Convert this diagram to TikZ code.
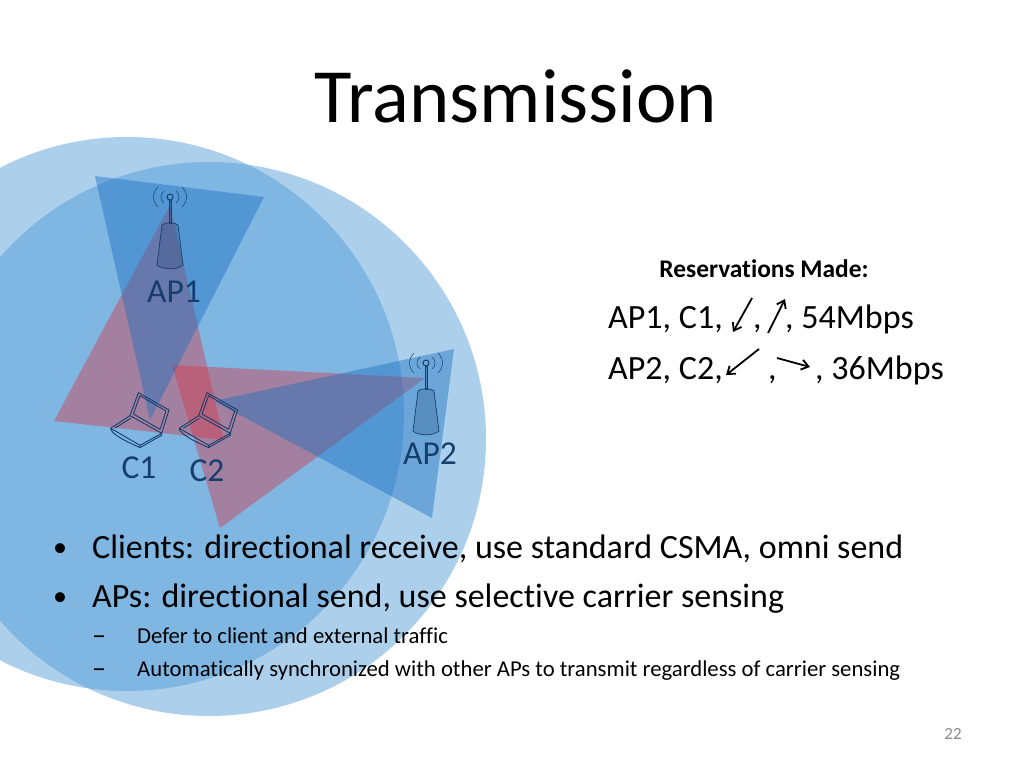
\documentclass[tikz,border=0pt]{standalone}
\usepackage{fontspec}
\setmainfont[Ligatures=NoCommon]{Carlito}
\usepackage{tikz}
\usetikzlibrary{
  positioning,
  arrows.meta
}
\definecolor{RangeBlue}{RGB}{72,150,213}
\definecolor{BeamBlue}{RGB}{20,110,190}
\definecolor{BeamRed}{RGB}{215,55,70}
\definecolor{DeviceBlue}{RGB}{22,62,108}
\definecolor{PageGray}{RGB}{137,137,137}
\tikzset{
  % Omni range of an AP
  omnirange/.style={fill=RangeBlue, fill opacity=0.45},
  % Directional beams
  bluebeam/.style={fill=BeamBlue, fill opacity=0.42},
  redbeam/.style={fill=BeamRed, fill opacity=0.42},
  % Slide text
  slidetitle/.style={font=\fontsize{76.7}{76.7}\selectfont, anchor=base, inner sep=0pt},
  bullettext/.style={font=\fontsize{34}{34}\selectfont, anchor=base west, inner sep=0pt},
  bulletdot/.style={font=\fontsize{28}{28}\selectfont, anchor=base west, inner sep=0pt},
  subbullet/.style={font=\fontsize{22.7}{22.7}\selectfont, anchor=base west, inner sep=0pt},
  subdash/.style={font=\fontsize{28}{28}\selectfont, anchor=base west, inner sep=0pt},
  reserve/.style={font=\fontsize{34}{34}\selectfont, anchor=base west, inner sep=0pt},
  devlabel/.style={font=\fontsize{33.5}{33.5}\selectfont, text=DeviceBlue, anchor=base, inner sep=0pt},
  % Arrows in the reservation list
  dirarrow/.style={draw=black, line width=1.8pt, -{Straight Barb[length=7pt,width=10pt]}},
  % AP icon
  antenna/.pic={
    \draw[DeviceBlue, line width=0.7pt, fill=DeviceBlue, fill opacity=0.22]
      (-8,28) -- (-13,68) .. controls (-8,73) and (8,73) .. (13,68) -- (8,28)
      .. controls (5,25) and (-5,25) .. (-8,28) -- cycle;
    \draw[DeviceBlue, line width=0.7pt, fill=DeviceBlue, fill opacity=0.3]
      (-1,3) rectangle (1,26);
    \draw[DeviceBlue, line width=1pt] (0,0) circle (3);
    \foreach \s in {-1,1} {
      \draw[DeviceBlue, line width=0.5pt]
        (\s*6,-6) .. controls (\s*10,-3) and (\s*10,3) .. (\s*6,6);
      \draw[DeviceBlue, line width=0.5pt]
        (\s*12,-10) .. controls (\s*18,-4) and (\s*18,4) .. (\s*12,10);
    }
  },
  % Client icon
  laptop/.pic={
    \draw[DeviceBlue, line width=0.9pt, line join=round]
      (19.3,-12.7) -- (27.7,-35.7) -- (58.3,-18.3) -- (51,5) -- cycle
      (22.7,-14.3) -- (29.3,-32.7) -- (55.3,-17.3) -- (49.3,1) -- cycle
      (19.3,-12.7) -- (0,0) -- (29.3,17) -- (51,5)
      (0,0) .. controls (0,4) and (8,10) .. (29.3,19.3) -- (51,7) -- (51,5)
      (4,0) -- (20,-10)  (29.3,17) -- (29.3,19.3);
  }
}
\begin{document}
\begin{tikzpicture}[x=1pt, y=-1pt]
  \useasboundingbox (0,0) rectangle (1024,768);

  % Ranges
  \fill[omnirange] (127,414) circle (277);
  \fill[omnirange] (209,439) circle (277);

  % Beams
  \fill[redbeam] (170,205) -- (54,421) -- (224,440) -- cycle;
  \fill[redbeam] (172,365) -- (425,378) -- (220,528) -- cycle;
  \fill[bluebeam] (95,176) -- (264,197) -- (150,420) -- cycle;
  \fill[bluebeam] (454,349) -- (432,518) -- (214,401) -- cycle;

  % Devices
  \pic at (170,197) {antenna};
  \pic at (426,363) {antenna};
  \pic at (110.7,428.3) {laptop};
  \pic at (179.3,428.3) {laptop};

  \node[devlabel] (ap1) at (174,302) {AP1};
  \node[devlabel] (ap2) at (430,464) {AP2};
  \node[devlabel] (c1) at (139,478) {C1};
  \node[devlabel] (c2) at (207,481) {C2};

  \node[slidetitle] (head) at (516,122) {Transmission};

  % Reservation list
  \node[font=\fontsize{25.4}{25.4}\selectfont\bfseries, anchor=base, inner sep=0pt] (made) at (764,277) {Reservations Made:};
  \node[reserve] (r1a) at (608,328) {AP1, C1,};
  \node[reserve] (r1b) at (753,328) {,};
  \node[reserve] (r1c) at (785,328) {, 54Mbps};
  \node[reserve] (r2a) at (608,379) {AP2, C2,};
  \node[reserve] (r2b) at (768,379) {,};
  \node[reserve] (r2c) at (815,379) {, 36Mbps};

  \coordinate (a1s) at (752,298);
  \coordinate (a1e) at (733,332);
  \coordinate (a2s) at (768,333);
  \coordinate (a2e) at (785,299);
  \coordinate (a3s) at (759,349);
  \coordinate (a3e) at (726,375);
  \coordinate (a4s) at (777,358);
  \coordinate (a4e) at (810,367);
  \draw[dirarrow] (a1s) -- (a1e);
  \draw[dirarrow] (a2s) -- (a2e);
  \draw[dirarrow] (a3s) -- (a3e);
  \draw[dirarrow] (a4s) -- (a4e);

  % Bullets
  \node[bulletdot] (d1) at (53,556) {•};
  \node[bullettext] (b1) at (92,558) {Clients: directional receive, use standard CSMA, omni send};
  \node[bulletdot] (d2) at (53,605) {•};
  \node[bullettext] (b2) at (92,607) {APs: directional send, use selective carrier sensing};
  \node[subdash] (d3) at (92,644) {–};
  \node[subbullet] (b3) at (137,643) {Defer to client and external traffic};
  \node[subdash] (d4) at (92,677) {–};
  \node[subbullet] (b4) at (137,676) {Automatically synchronized with other APs to transmit regardless of carrier sensing};

  \node[font=\fontsize{17}{17}\selectfont, text=PageGray, anchor=base, inner sep=0pt] (page) at (953,739) {22};
\end{tikzpicture}
\end{document}
